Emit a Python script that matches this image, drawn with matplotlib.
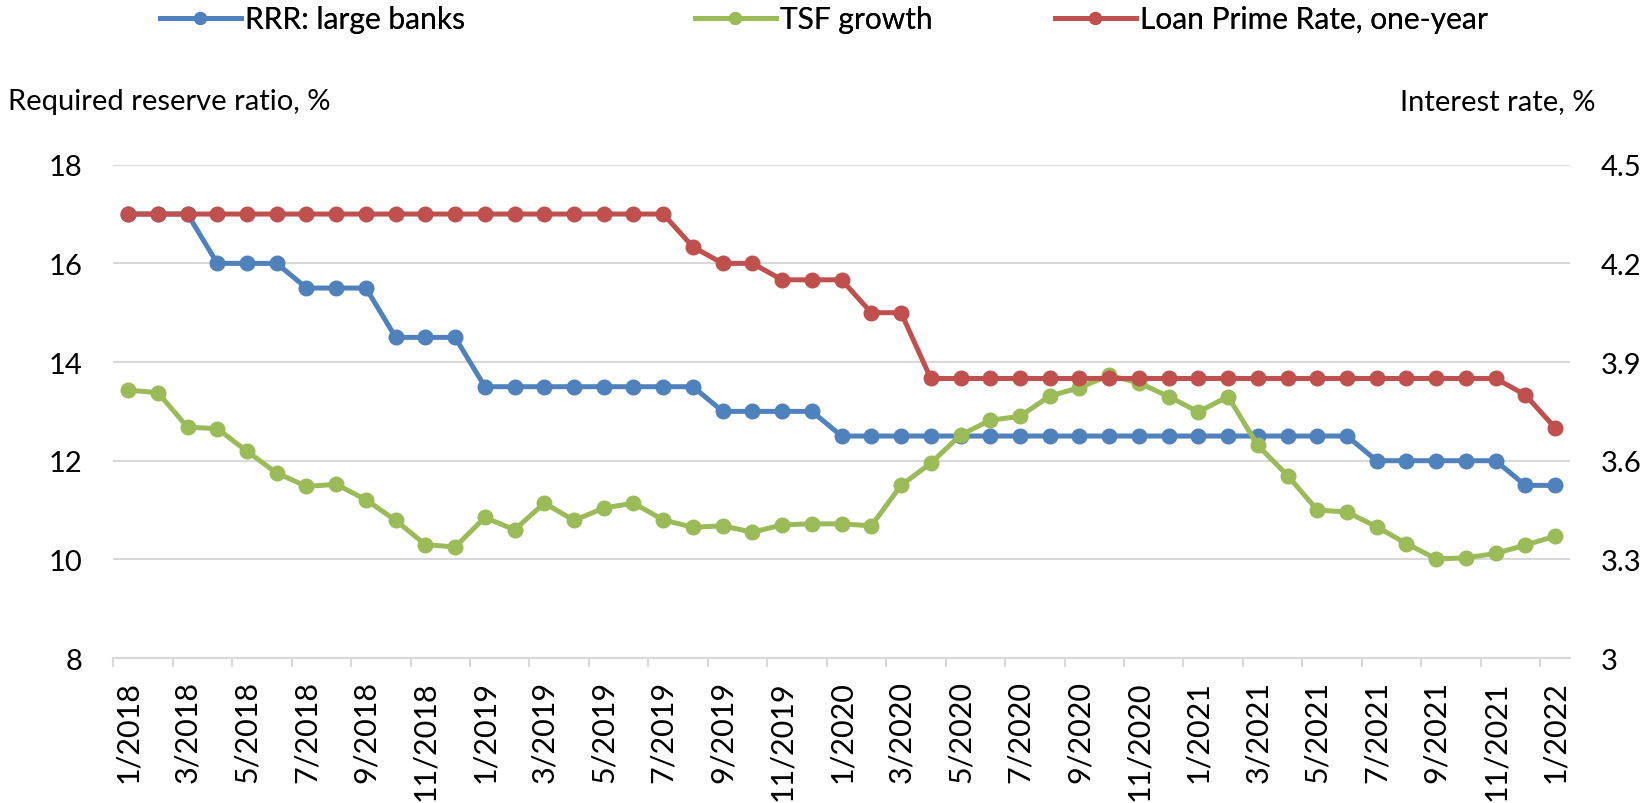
import matplotlib
matplotlib.use("Agg")
import matplotlib.pyplot as plt
from matplotlib.ticker import FixedLocator

plt.rcParams['font.family'] = ['Lato', 'DejaVu Sans']

months = [f"{m}/{y}" for y in range(2018, 2023) for m in range(1, 13)][:49]

rrr = [17, 17, 17, 16, 16, 16, 15.5, 15.5, 15.5, 14.5, 14.5, 14.5,
       13.5, 13.5, 13.5, 13.5, 13.5, 13.5, 13.5, 13.5, 13, 13, 13, 13,
       12.5, 12.5, 12.5, 12.5, 12.5, 12.5, 12.5, 12.5, 12.5, 12.5, 12.5, 12.5,
       12.5, 12.5, 12.5, 12.5, 12.5, 12.5, 12, 12, 12, 12, 12, 11.5, 11.5]

tsf = [13.43, 13.38, 12.68, 12.65, 12.19, 11.75, 11.48, 11.52, 11.21, 10.79, 10.30, 10.25,
       10.85, 10.60, 11.14, 10.79, 11.04, 11.14, 10.80, 10.65, 10.68, 10.55, 10.70, 10.72,
       10.72, 10.68, 11.50, 11.95, 12.52, 12.82, 12.90, 13.31, 13.48, 13.73, 13.58, 13.30,
       12.99, 13.30, 12.31, 11.70, 11.00, 10.96, 10.66, 10.32, 10.01, 10.03, 10.12, 10.29, 10.47]

lpr = [4.35] * 19 + [4.25, 4.20, 4.20, 4.15, 4.15, 4.15, 4.05, 4.05] + [3.85] * 20 + [3.80, 3.70]

left_ticks = [8, 10, 12, 14, 16, 18]
right_ticks = [3, 3.3, 3.6, 3.9, 4.2, 4.5]
right_labels = ["3", "3.3", "3.6", "3.9", "4.2", "4.5"]

BLUE = "#4F81BD"
GREEN = "#9BBB59"
RED = "#C0504D"
GRID = "#D9D9D9"

fig = plt.figure(figsize=(16.46, 8.04), dpi=100)
ax = fig.add_axes([0.0688, 0.1803, 0.9538 - 0.0688, 0.7939 - 0.1803])
ax2 = ax.twinx()

x = list(range(len(months)))
lw = 3.6
ms = 10.5
l1, = ax.plot(x, rrr, color=BLUE, lw=lw, marker='o', ms=ms, label="RRR: large banks", zorder=3)
l2, = ax.plot(x, tsf, color=GREEN, lw=lw, marker='o', ms=ms, label="TSF growth", zorder=4)
l3, = ax2.plot(x, lpr, color=RED, lw=lw, marker='o', ms=ms, label="Loan Prime Rate, one-year", zorder=5)

ax.set_xlim(-0.5, len(months) - 0.5)
ax.set_ylim(8, 18)
ax2.set_ylim(3, 4.5)

ax.set_yticks(left_ticks)
ax.set_yticklabels([str(t) for t in left_ticks])
ax2.set_yticks(right_ticks)
ax2.set_yticklabels(right_labels)

ax.yaxis.grid(True, color=GRID, lw=1.5)
ax.set_axisbelow(True)

for a in (ax, ax2):
    for s in ("top", "left", "right", "bottom"):
        a.spines[s].set_visible(False)
ax.spines["bottom"].set_visible(True)
ax.spines["bottom"].set_color(GRID)
ax.spines["bottom"].set_linewidth(1.5)

ax.tick_params(axis='y', length=0, pad=22, labelsize=21, labelcolor='#000000')
ax2.tick_params(axis='y', length=0, pad=22, labelsize=21, labelcolor='#000000')

ax.set_xticks(x[::2])
ax.set_xticklabels(months[::2], rotation=90, fontsize=22)
ax.xaxis.set_minor_locator(FixedLocator([i - 0.5 for i in range(0, len(months), 2)]))
ax.tick_params(axis='x', which='major', length=0, pad=16)
ax.tick_params(axis='x', which='minor', length=6.5, width=1.5, color=GRID)

fig.text(8.4 / 1646, 1 - 102 / 804, "Required reserve ratio, %", fontsize=21, ha='left', va='center')
fig.text(1596 / 1646, 1 - 102 / 804, "Interest rate, %", fontsize=21, ha='right', va='center')

ly = 1 - 20 / 804
for handle, xpos in ((l1, 160), (l2, 695), (l3, 1055)):
    leg = fig.legend(handles=[handle], loc='center left', bbox_to_anchor=(xpos / 1646, ly),
                     frameon=False, fontsize=21.5, handlelength=2.7, handletextpad=0.15,
                     borderpad=0, borderaxespad=0, markerscale=0.8)
    fig.add_artist(leg)

fig.savefig("out.png", dpi=100)
